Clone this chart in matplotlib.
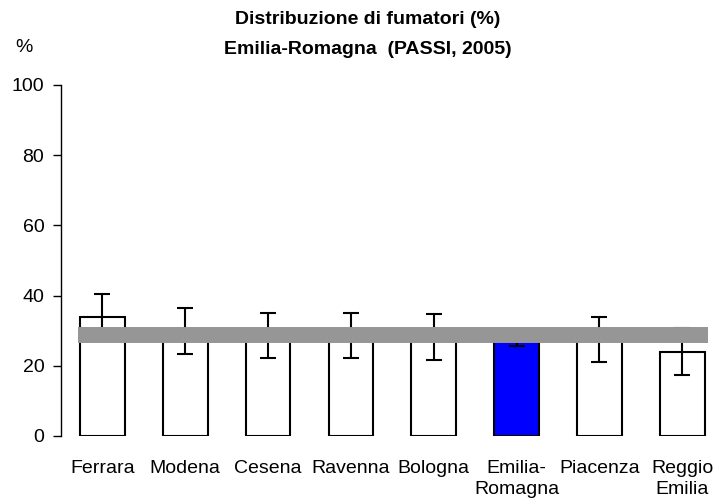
import matplotlib.pyplot as plt
import numpy as np

plt.rcParams['font.family'] = ['Liberation Sans', 'DejaVu Sans']

# dati
province = ['Ferrara', 'Modena', 'Cesena', 'Ravenna', 'Bologna',
            'Emilia-\nRomagna', 'Piacenza', 'Reggio\nEmilia']
fumatori = [34.0, 29.8, 28.6, 28.6, 28.1, 27.5, 27.5, 24.0]
ic_inf = [27.0, 23.3, 22.1, 22.1, 21.6, 25.6, 21.1, 17.3]
ic_sup = [40.5, 36.4, 35.1, 35.1, 34.7, 29.4, 34.0, 30.7]
media_regionale = 28.9
colori = ['white'] * 5 + ['#0000FF'] + ['white'] * 2

x = np.arange(len(province))
err = [np.array(fumatori) - np.array(ic_inf), np.array(ic_sup) - np.array(fumatori)]

fig = plt.figure(figsize=(7.17, 5.03), dpi=100)
ax = fig.add_axes([61 / 717, 1 - 436 / 503, (717 - 61) / 717, (436 - 85) / 503])

ax.bar(x, fumatori, width=0.54, color=colori, edgecolor='black', linewidth=1.5, zorder=2)
ax.errorbar(x, fumatori, yerr=err, fmt='none', ecolor='black', elinewidth=1.5,
            capsize=5.5, capthick=1.5, zorder=3)
ax.plot([-0.30, 7.31], [media_regionale, media_regionale], color='#969696',
        linewidth=11.5, solid_capstyle='butt', zorder=4)

ax.set_ylim(0, 100)
ax.set_xlim(-0.5, 7.42)
ax.set_yticks([0, 20, 40, 60, 80, 100])
ax.set_xticks(x)
ax.set_xticklabels(province, fontsize=14, linespacing=1.35)
ax.tick_params(axis='y', labelsize=14, length=6, width=1, direction='out', pad=6)
ax.tick_params(axis='x', length=0, pad=17)
for s in ['top', 'right', 'bottom']:
    ax.spines[s].set_visible(False)
ax.spines['left'].set_linewidth(1)

fig.text(368 / 717, 1 - 20 / 503, 'Distribuzione di fumatori (%)', ha='center', va='center',
         fontsize=14, fontweight='bold')
fig.text(368 / 717, 1 - 49 / 503, 'Emilia-Romagna  (PASSI, 2005)', ha='center', va='center',
         fontsize=14, fontweight='bold')
fig.text(24 / 717, 1 - 47 / 503, '%', ha='center', va='center', fontsize=14)

fig.savefig('out.png', dpi=100)
